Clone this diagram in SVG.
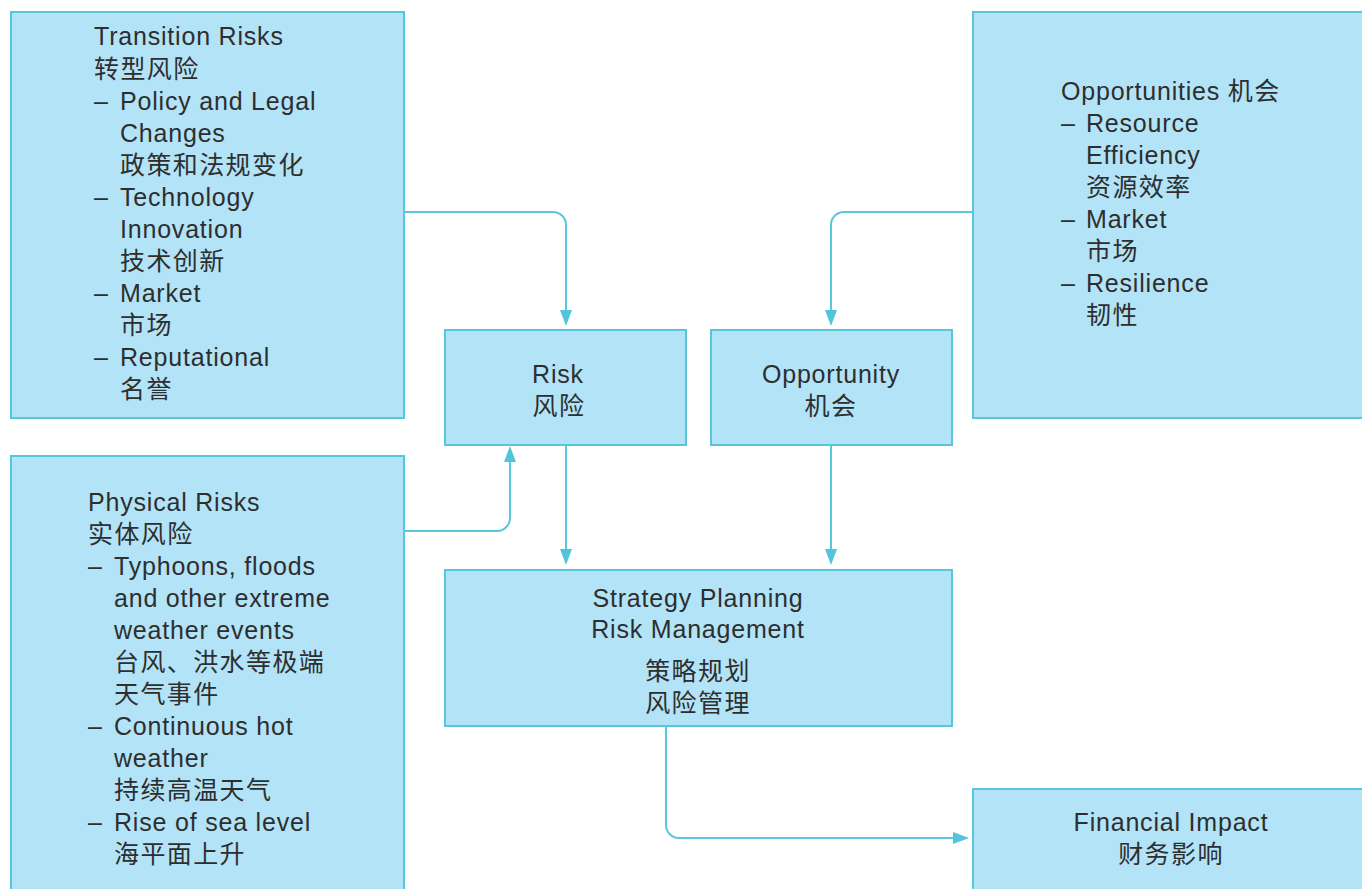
<svg xmlns="http://www.w3.org/2000/svg" width="1362" height="889" viewBox="0 0 1362 889">
<defs>
<style>
.box{fill:#b3e3f7;stroke:#57c7db;stroke-width:2}
.t{font-family:"Liberation Sans","Noto Sans CJK SC",sans-serif;font-size:25px;fill:#2e2e2e;letter-spacing:0.8px}
.c{letter-spacing:1.4px}
.m{text-anchor:middle}
.ln{fill:none;stroke:#57c7db;stroke-width:2}
</style>
<marker id="ah" viewBox="0 0 16 12" refX="0" refY="6" markerWidth="16" markerHeight="12" markerUnits="userSpaceOnUse" orient="auto">
<path d="M0,0 L16,6 L0,12 z" fill="#52c5da"/>
</marker>
</defs>
<rect width="1362" height="889" fill="#ffffff"/>
<g id="connectors">
<path class="ln" marker-end="url(#ah)" d="M404,212 H553 A13,13 0 0 1 566,225 V310"/>
<path class="ln" marker-end="url(#ah)" d="M404,531 H497 A13,13 0 0 0 510,518 V462"/>
<path class="ln" marker-end="url(#ah)" d="M566,445 V549"/>
<path class="ln" marker-end="url(#ah)" d="M831,445 V549"/>
<path class="ln" marker-end="url(#ah)" d="M973,212 H844 A13,13 0 0 0 831,225 V310"/>
<path class="ln" marker-end="url(#ah)" d="M666,726 V825 A13,13 0 0 0 679,838 H953"/>
</g>
<g id="transition">
<rect class="box" x="11" y="12" width="393" height="406"/>
<text class="t" x="94" y="45">Transition Risks</text>
<text class="t c" x="94" y="78">转型风险</text>
<text class="t" x="94" y="110">–</text>
<text class="t" x="120" y="110">Policy and Legal</text>
<text class="t" x="120" y="142">Changes</text>
<text class="t c" x="120" y="174">政策和法规变化</text>
<text class="t" x="94" y="206">–</text>
<text class="t" x="120" y="206">Technology</text>
<text class="t" x="120" y="238">Innovation</text>
<text class="t c" x="120" y="270">技术创新</text>
<text class="t" x="94" y="302">–</text>
<text class="t" x="120" y="302">Market</text>
<text class="t c" x="120" y="334">市场</text>
<text class="t" x="94" y="366">–</text>
<text class="t" x="120" y="366">Reputational</text>
<text class="t c" x="120" y="398">名誉</text>
</g>
<g id="physical">
<rect class="box" x="11" y="456" width="393" height="450"/>
<text class="t" x="88" y="511">Physical Risks</text>
<text class="t c" x="88" y="543">实体风险</text>
<text class="t" x="88" y="575">–</text>
<text class="t" x="114" y="575">Typhoons, floods</text>
<text class="t" x="114" y="607">and other extreme</text>
<text class="t" x="114" y="639">weather events</text>
<text class="t c" x="114" y="671">台风、洪水等极端</text>
<text class="t c" x="114" y="703">天气事件</text>
<text class="t" x="88" y="735">–</text>
<text class="t" x="114" y="735">Continuous hot</text>
<text class="t" x="114" y="767">weather</text>
<text class="t c" x="114" y="799">持续高温天气</text>
<text class="t" x="88" y="831">–</text>
<text class="t" x="114" y="831">Rise of sea level</text>
<text class="t c" x="114" y="863">海平面上升</text>
</g>
<g id="risk">
<rect class="box" x="445" y="330" width="241" height="115"/>
<text class="t m" x="558" y="383">Risk</text>
<text class="t c m" x="559" y="415">风险</text>
</g>
<g id="opportunity">
<rect class="box" x="711" y="330" width="241" height="115"/>
<text class="t m" x="831" y="383">Opportunity</text>
<text class="t c m" x="831" y="415">机会</text>
</g>
<g id="opportunities">
<rect class="box" x="973" y="12" width="400" height="406"/>
<text class="t" x="1061" y="100">Opportunities <tspan class="c">机会</tspan></text>
<text class="t" x="1061" y="132">–</text>
<text class="t" x="1086" y="132">Resource</text>
<text class="t" x="1086" y="164">Efficiency</text>
<text class="t c" x="1086" y="196">资源效率</text>
<text class="t" x="1061" y="228">–</text>
<text class="t" x="1086" y="228">Market</text>
<text class="t c" x="1086" y="260">市场</text>
<text class="t" x="1061" y="292">–</text>
<text class="t" x="1086" y="292">Resilience</text>
<text class="t c" x="1086" y="324">韧性</text>
</g>
<g id="strategy">
<rect class="box" x="445" y="570" width="507" height="156"/>
<text class="t m" x="698" y="607">Strategy Planning</text>
<text class="t m" x="698" y="638">Risk Management</text>
<text class="t c m" x="698" y="680">策略规划</text>
<text class="t c m" x="698" y="712">风险管理</text>
</g>
<g id="financial">
<rect class="box" x="973" y="789" width="400" height="120"/>
<text class="t m" x="1171" y="831">Financial Impact</text>
<text class="t c m" x="1171" y="863">财务影响</text>
</g>
</svg>
